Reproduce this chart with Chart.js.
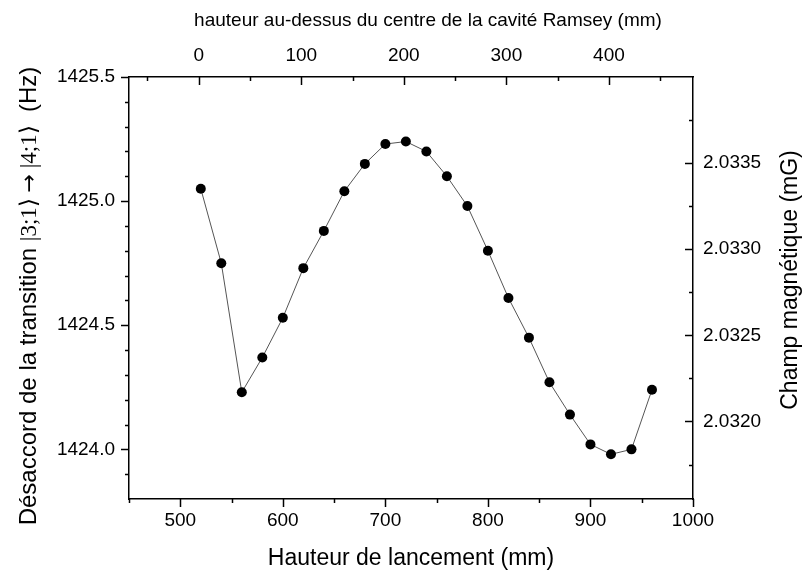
<!DOCTYPE html>
<html>
<head>
<meta charset="utf-8">
<script src="https://cdn.jsdelivr.net/npm/chart.js@4.4.1/dist/chart.umd.min.js"></script>
<style>
  body { margin: 0; background: #fff; }
  #wrap { width: 803px; height: 570px; }
</style>
</head>
<body>
<div id="wrap"><canvas id="chart" width="803" height="570"></canvas></div>
<script>
// --- Data ---
const launchHeights = [520, 540, 560, 580, 600, 620, 640, 660, 680, 700, 720, 740,
                       760, 780, 800, 820, 840, 860, 880, 900, 920, 940, 960];
const detuning = [1425.05, 1424.75, 1424.23, 1424.37, 1424.53, 1424.73, 1424.88, 1425.04,
                  1425.15, 1425.23, 1425.24, 1425.20, 1425.10, 1424.98, 1424.80, 1424.61,
                  1424.45, 1424.27, 1424.14, 1424.02, 1423.98, 1424.00, 1424.24];

// --- Tick values ---
const bottomMajor = [500, 600, 700, 800, 900, 1000];
const bottomMinor = [450, 550, 650, 750, 850, 950];
const topMajor = [0, 100, 200, 300, 400];
const topMinor = [-50, 50, 150, 250, 350, 450];
const leftMajor = [1424.0, 1424.5, 1425.0, 1425.5];
const leftMinor = [1423.9, 1424.1, 1424.2, 1424.3, 1424.4, 1424.6, 1424.7, 1424.8, 1424.9,
                   1425.1, 1425.2, 1425.3, 1425.4];
const rightMajor = [2.0320, 2.0325, 2.0330, 2.0335];
const rightMinor = [2.03175, 2.03225, 2.03275, 2.03325, 2.03375];

const SANS = '"Liberation Sans", Arial, sans-serif';

// draws minor/major tick marks and the axis titles
const axisDecor = {
  id: 'axisDecor',
  afterDraw(chart) {
    const ctx = chart.ctx;
    const { x, x2, y, y2 } = chart.scales;
    const a = chart.chartArea;
    ctx.save();
    ctx.strokeStyle = '#000';
    ctx.lineWidth = 1.5;

    function vTicks(scale, vals, yy, len) {
      vals.forEach(v => {
        const px = Math.round(scale.getPixelForValue(v)) + 0.5;
        ctx.beginPath(); ctx.moveTo(px, yy); ctx.lineTo(px, yy + len); ctx.stroke();
      });
    }
    function hTicks(scale, vals, xx, len) {
      vals.forEach(v => {
        const py = Math.round(scale.getPixelForValue(v)) + 0.5;
        ctx.beginPath(); ctx.moveTo(xx, py); ctx.lineTo(xx + len, py); ctx.stroke();
      });
    }
    vTicks(x, bottomMajor, a.bottom, 8);
    vTicks(x, bottomMinor, a.bottom, 4);
    vTicks(x2, topMajor, a.top, 8);
    vTicks(x2, topMinor, a.top, 4);
    hTicks(y, leftMajor, a.left, -8);
    hTicks(y, leftMinor, a.left, -4);
    hTicks(y2, rightMajor, a.right, -8);
    hTicks(y2, rightMinor, a.right, -4);

    ctx.fillStyle = '#000';
    // bottom title
    ctx.font = '23px ' + SANS;
    ctx.textAlign = 'center';
    ctx.textBaseline = 'alphabetic';
    ctx.fillText('Hauteur de lancement (mm)', 411, 565);
    // top title
    ctx.font = '19px ' + SANS;
    ctx.fillText('hauteur au-dessus du centre de la cavité Ramsey (mm)', 428, 26);

    // left title, mixed fonts
    const parts = [
      { t: 'Désaccord de la transition ', f: '24px ' + SANS },
      { t: '|3;1\u27E9 ', f: '23px "Liberation Serif", serif' },
      { t: '\u2192', f: '22px "DejaVu Sans", sans-serif' },
      { t: ' |4;1\u27E9', f: '23px "Liberation Serif", serif' },
      { t: '  (Hz)', f: '24px ' + SANS }
    ];
    let total = 0;
    parts.forEach(p => { ctx.font = p.f; p.w = ctx.measureText(p.t).width; total += p.w; });
    ctx.save();
    ctx.translate(36, 296);
    ctx.rotate(-Math.PI / 2);
    ctx.textAlign = 'left';
    let cx = -total / 2;
    parts.forEach(p => { ctx.font = p.f; ctx.fillText(p.t, cx, 0); cx += p.w; });
    ctx.restore();

    // right title
    ctx.save();
    ctx.translate(797, 280);
    ctx.rotate(-Math.PI / 2);
    ctx.font = '23px ' + SANS;
    ctx.textAlign = 'center';
    ctx.fillText('Champ magnétique (mG)', 0, 0);
    ctx.restore();

    ctx.restore();
  }
};

function fixTicks(values) {
  return scale => { scale.ticks = values.map(v => ({ value: v })); };
}

const tickFont = { family: SANS, size: 19 };
const border = { display: true, color: '#000', width: 1.5 };

new Chart(document.getElementById('chart'), {
  type: 'line',
  data: {
    datasets: [{
      data: launchHeights.map((h, i) => ({ x: h, y: detuning[i] })),
      borderColor: '#555',
      borderWidth: 1,
      pointRadius: 5,
      pointBackgroundColor: '#000',
      pointBorderColor: '#000',
      pointBorderWidth: 0,
      tension: 0,
      xAxisID: 'x',
      yAxisID: 'y'
    }]
  },
  options: {
    responsive: false,
    animation: false,
    devicePixelRatio: 1,
    layout: { padding: 0 },
    plugins: { legend: { display: false }, tooltip: { enabled: false } },
    scales: {
      x: {
        type: 'linear', position: 'bottom', min: 450, max: 1000, bounds: 'data',
        grid: { display: false, drawTicks: false }, border,
        afterBuildTicks: fixTicks(bottomMajor),
        afterFit: s => { s.height = 71; },
        ticks: { font: tickFont, color: '#000', padding: 10, maxRotation: 0, autoSkip: false,
                 callback: v => String(v) }
      },
      x2: {
        type: 'linear', position: 'top', min: -68, max: 482, bounds: 'data',
        grid: { display: false, drawTicks: false }, border,
        afterBuildTicks: fixTicks(topMajor),
        afterFit: s => { s.height = 77; },
        ticks: { font: tickFont, color: '#000', padding: 10, maxRotation: 0, autoSkip: false,
                 callback: v => String(v) }
      },
      y: {
        type: 'linear', position: 'left', min: 1423.8, max: 1425.5, bounds: 'data',
        grid: { display: false, drawTicks: false }, border,
        afterBuildTicks: fixTicks(leftMajor),
        afterFit: s => { s.width = 129; },
        ticks: { font: tickFont, color: '#000', padding: 14, autoSkip: false,
                 callback: v => v.toFixed(1) }
      },
      y2: {
        type: 'linear', position: 'right', min: 2.03155, max: 2.0340, bounds: 'data',
        grid: { display: false, drawTicks: false }, border,
        afterBuildTicks: fixTicks(rightMajor),
        afterFit: s => { s.width = 110; },
        ticks: { font: tickFont, color: '#000', padding: 10, autoSkip: false,
                 callback: v => v.toFixed(4) }
      }
    }
  },
  plugins: [axisDecor]
});
</script>
</body>
</html>
